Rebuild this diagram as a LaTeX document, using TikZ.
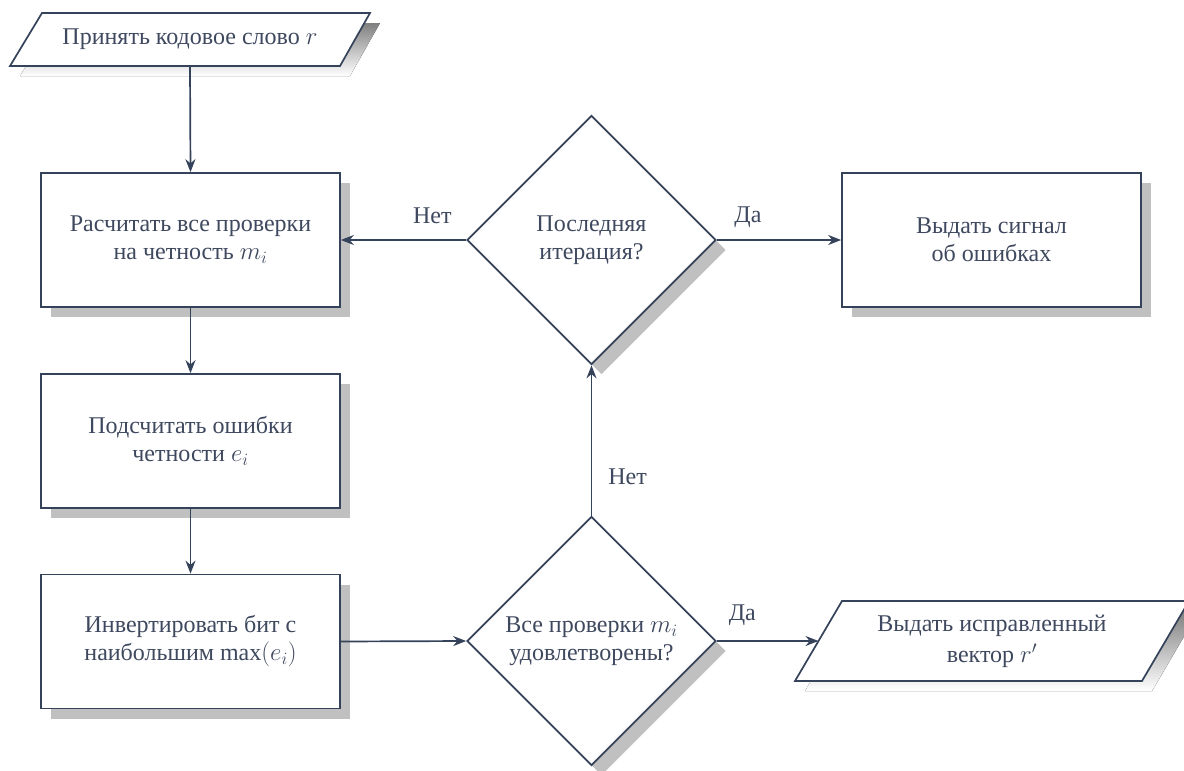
\documentclass[tikz,border=0pt]{standalone}
\usepackage{fontspec}
\setmainfont{Liberation Serif}
\usetikzlibrary{shapes.geometric,arrows.meta,shadows}
\definecolor{ink}{HTML}{34425A}
\definecolor{txtc}{HTML}{3E485E}
\definecolor{shade}{HTML}{C0C0C0}
\tikzset{
  txt/.style={text=txtc, font=\fontsize{24}{28}\selectfont, align=center},
  myshadow/.style={drop shadow={shadow xshift=10pt, shadow yshift=-10pt, fill=shade, opacity=1}},
  procbox/.style={txt, draw=ink, line width=1.7pt, fill=white, rectangle,
    minimum width=299pt, minimum height=134pt, inner sep=0pt, myshadow},
  decbox/.style={txt, draw=ink, line width=1.7pt, fill=white, diamond, aspect=1,
    minimum width=249pt, minimum height=249pt, inner sep=0pt, myshadow},
  paratext/.style={txt, inner sep=0pt},
  parashape/.style={fill=white, draw=ink, line width=1.7pt, line join=miter},
  flow/.style={draw=ink, line width=1.7pt, -{Stealth[length=13pt,width=10pt]}},
  lbl/.style={txt, inner sep=0pt}
}
\begin{document}
\begin{tikzpicture}[x=1pt,y=-1pt]
\useasboundingbox (0,0) rectangle (1184,771);
% input parallelogram
\fill[shade] (52,23) -- (380,23) -- (350,76) -- (20,76) -- cycle;
\draw[parashape] (42,13) -- (370,13) -- (340,66) -- (10,66) -- cycle;
\node[paratext, minimum height=53pt] (in) at (190,39.5) {Принять кодовое слово $r$};
% boxes
\node[procbox] (b1) at (190.5,240) {Расчитать все проверки\\на четность $m_i$};
\node[procbox] (b2) at (190.5,441) {Подсчитать ошибки\\четности $e_i$};
\node[procbox] (b3) at (190.5,641.5) {Инвертировать бит с\\наибольшим $\mathrm{max}(e_i)$};
\node[decbox] (d1) at (591.5,240) {Последняя\\итерация?};
\node[decbox] (d2) at (591.5,641) {Все проверки $m_i$\\удовлетворены?};
\node[procbox] (rb) at (991.5,240) {Выдать сигнал\\об ошибках};
% output parallelogram
\fill[shade] (852,611) -- (1199,611) -- (1152,691) -- (805,691) -- cycle;
\draw[parashape] (842,601) -- (1189,601) -- (1142,681) -- (795,681) -- cycle;
\node[paratext, font=\fontsize{24}{31}\selectfont] (out) at (992,641) {Выдать исправленный\\вектор $r'$};
\coordinate (outl) at (818.5,641);
% connectors
\draw[flow] (in.south) -- (b1.north);
\draw[flow] (b1.south) -- (b2.north);
\draw[flow] (b2.south) -- (b3.north);
\draw[flow] (b3.east) -- (d2.west);
\draw[flow] (d2.east) -- node[lbl, pos=0.25, yshift=26pt] {Да} (outl);
\draw[flow] (d2.north) -- node[lbl, pos=0.26, xshift=36pt] {Нет} (d1.south);
\draw[flow] (d1.west) -- node[lbl, pos=0.27, yshift=24pt] {Нет} (b1.east);
\draw[flow] (d1.east) -- node[lbl, pos=0.25, yshift=23pt] {Да} (rb.west);
\end{tikzpicture}
\end{document}
